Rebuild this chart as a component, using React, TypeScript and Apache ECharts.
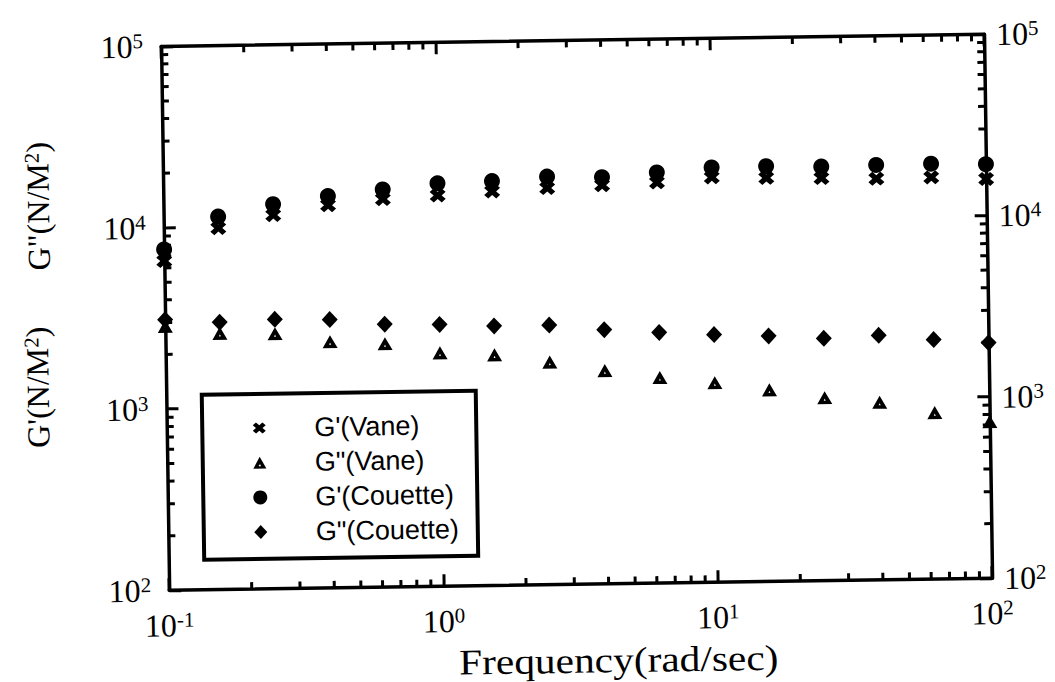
import React, { useEffect, useRef } from 'react';
import * as echarts from 'echarts';

const freq = [0.1, 0.158, 0.251, 0.398, 0.631, 1, 1.58, 2.51, 3.98, 6.31, 10, 15.8, 25.1, 39.8, 63.1, 100];
const gpVane = [6550, 9850, 11500, 12900, 13800, 14300, 14900, 15400, 15800, 16200, 17100, 16800, 16600, 16300, 16400, 15900];
const gppVane = [2860, 2590, 2550, 2280, 2200, 1940, 1870, 1690, 1500, 1360, 1260, 1140, 1020, 953, 827, 730];
const gpCouette = [7590, 11400, 13200, 14500, 15600, 16700, 17000, 17800, 17500, 18400, 19400, 19500, 19200, 19400, 19500, 19200];
const gppCouette = [3110, 2980, 3060, 3020, 2820, 2780, 2700, 2700, 2520, 2410, 2320, 2260, 2170, 2230, 2090, 1990];

const seriesNames = ["G'(Vane)", 'G"(Vane)', "G'(Couette)", 'G"(Couette)'];
const xMinor = [0.2, 0.3, 0.4, 0.5, 0.6, 0.7, 0.8, 0.9, 2, 3, 4, 5, 6, 7, 8, 9, 20, 30, 40, 50, 60, 70, 80, 90];
const yMinor = [200, 300, 400, 500, 600, 700, 800, 900, 2000, 3000, 4000, 5000, 6000, 7000, 8000, 9000, 20000, 30000, 40000, 50000, 60000, 70000, 80000, 90000];
const xMin = 0.1, xMax = 100, yMin = 100, yMax = 100000;

const SERIF = "'Liberation Serif', 'Times New Roman', serif";
const SANS = "'Liberation Sans', Arial, sans-serif";
const crossPts = [[0, 3.5], [3.5, 0], [7, 3.5], [10.5, 0], [14, 3.5], [10.5, 7], [14, 10.5], [10.5, 14], [7, 10.5], [3.5, 14], [0, 10.5], [3.5, 7]];
const crossPath = 'path://' + crossPts.map((p, i) => (i ? 'L' : 'M') + p[0] + ',' + p[1]).join(' ') + ' Z';
const trianglePath = 'path://M7,0 L14,13 L0,13 Z M7,7.4 L6.1,9.6 L7.9,9.6 Z';
const diamondPath = 'path://M7,0 L14,7 L7,14 L0,7 Z';

const expLabel = (v: number) => {
  const e = Math.round(Math.log10(v));
  return `{b|10}{s|${e}}`;
};
const labelRich = {
  b: { fontSize: 32, fontFamily: SERIF, color: '#000' },
  s: { fontSize: 21, fontFamily: SERIF, color: '#000', verticalAlign: 'top' },
};

const pairs = (ys: number[]) => freq.map((f, i) => [f, ys[i]]);

// legend layout (pixels, in the un-rotated frame)
const LEG_X = 201, LEG_Y = 390, LEG_W = 274, LEG_H = 165;
const LEG_ICON_X = 258, LEG_TEXT_X = 313, LEG_ROW0 = 424, LEG_ROW_GAP = 34.7;
const MINOR_LEN = 7;
const TICK_W = 3;

export default function App() {
  const ref = useRef<HTMLDivElement>(null);
  useEffect(() => {
    if (!ref.current) return;
    const chart = echarts.init(ref.current, null, { renderer: 'svg' });
    const mkLine = () => ({ show: true, lineStyle: { color: '#000', width: 3.5 } });
    const mkTick = () => ({ show: true, inside: true, length: 12, lineStyle: { color: '#000', width: TICK_W } });
    const mark = (name: string, ys: number[], symbol: string, size: any) => ({
      type: 'scatter', name, data: pairs(ys), clip: false, z: 3,
      symbol, symbolSize: size, symbolKeepAspect: true,
      itemStyle: { color: '#000', opacity: 1 },
    });

    const option: any = {
      animation: false,
      grid: { left: 165.5, top: 41, width: 823, height: 544, containLabel: false },
      xAxis: [
        {
          type: 'log', logBase: 10, min: xMin, max: xMax, position: 'bottom',
          axisLine: mkLine(), axisTick: mkTick(), splitLine: { show: false },
          axisLabel: { formatter: expLabel, rich: labelRich, margin: 19 },
        },
        {
          type: 'log', logBase: 10, min: xMin, max: xMax, position: 'top',
          axisLine: mkLine(), axisTick: mkTick(), splitLine: { show: false }, axisLabel: { show: false },
        },
      ],
      yAxis: [
        {
          type: 'log', logBase: 10, min: yMin, max: yMax, position: 'left',
          axisLine: mkLine(), axisTick: mkTick(), splitLine: { show: false },
          axisLabel: { formatter: expLabel, rich: labelRich, margin: 18 },
        },
        {
          type: 'log', logBase: 10, min: yMin, max: yMax, position: 'right',
          axisLine: mkLine(), axisTick: mkTick(), splitLine: { show: false },
          axisLabel: { formatter: expLabel, rich: labelRich, margin: 12 },
        },
      ],
      series: [
        mark(seriesNames[0], gpVane, crossPath, [16, 14]),
        mark(seriesNames[1], gppVane, trianglePath, [15, 14]),
        mark(seriesNames[2], gpCouette, 'circle', 16),
        mark(seriesNames[3], gppCouette, diamondPath, [16, 17]),
      ],
    };
    chart.setOption(option);

    // minor ticks placed through the chart's own log scales
    const toPx = (v: number[]) => chart.convertToPixel({ gridIndex: 0 }, v) as number[];
    const tick = (x1: number, y1: number, x2: number, y2: number) => ({
      type: 'line', shape: { x1, y1, x2, y2 }, style: { stroke: '#000', lineWidth: TICK_W },
    });
    const minorTicks: any[] = [];
    xMinor.forEach((v) => {
      const b = toPx([v, yMin]);
      const t = toPx([v, yMax]);
      minorTicks.push(tick(b[0], b[1], b[0], b[1] - MINOR_LEN));
      minorTicks.push(tick(t[0], t[1], t[0], t[1] + MINOR_LEN));
    });
    yMinor.forEach((v) => {
      const l = toPx([xMin, v]);
      const r = toPx([xMax, v]);
      minorTicks.push(tick(l[0], l[1], l[0] + MINOR_LEN, l[1]));
      minorTicks.push(tick(r[0], r[1], r[0] - MINOR_LEN, r[1]));
    });

    const rowY = (i: number) => LEG_ROW0 + i * LEG_ROW_GAP;
    const black = { fill: '#000' };
    const legendIcons: any[] = [
      {
        type: 'polygon',
        shape: { points: crossPts.map((p) => [LEG_ICON_X - 6.5 + p[0] * (13 / 14), rowY(0) - 5.5 + p[1] * (11 / 14)]) },
        style: black,
      },
      {
        type: 'polygon',
        shape: { points: [[LEG_ICON_X, rowY(1) - 6], [LEG_ICON_X + 6.5, rowY(1) + 6], [LEG_ICON_X - 6.5, rowY(1) + 6]] },
        style: black,
      },
      { type: 'circle', shape: { cx: LEG_ICON_X, cy: rowY(1) + 2.8, r: 0.9 }, style: { fill: '#fff' } },
      { type: 'circle', shape: { cx: LEG_ICON_X, cy: rowY(2), r: 7 }, style: black },
      {
        type: 'polygon',
        shape: { points: [[LEG_ICON_X, rowY(3) - 7], [LEG_ICON_X + 6.5, rowY(3)], [LEG_ICON_X, rowY(3) + 7], [LEG_ICON_X - 6.5, rowY(3)]] },
        style: black,
      },
    ];
    const legendTexts = seriesNames.map((n, i) => ({
      type: 'text', x: LEG_TEXT_X, y: rowY(i),
      style: { text: n, font: `27px ${SANS}`, fill: '#000', align: 'left', verticalAlign: 'middle' },
    }));

    chart.setOption({
      graphic: [
        {
          type: 'text', x: 40, y: 199, rotation: Math.PI / 2,
          style: {
            text: 'G"(N/M{s|2})', font: `32px ${SERIF}`, fill: '#000', align: 'center', verticalAlign: 'middle',
            rich: { s: { fontSize: 21, fontFamily: SERIF, verticalAlign: 'top' } },
          },
        },
        {
          type: 'text', x: 37, y: 380, rotation: Math.PI / 2,
          style: {
            text: "G'(N/M{s|2})", font: `32px ${SERIF}`, fill: '#000', align: 'center', verticalAlign: 'middle',
            rich: { s: { fontSize: 21, fontFamily: SERIF, verticalAlign: 'top' } },
          },
        },
        {
          type: 'text', x: 614, y: 661, scaleX: 1.15,
          style: { text: 'Frequency(rad/sec)', font: `36px ${SERIF}`, fill: '#000', align: 'center', verticalAlign: 'middle' },
        },
        ...minorTicks,
        {
          type: 'rect', shape: { x: LEG_X, y: LEG_Y, width: LEG_W, height: LEG_H },
          style: { fill: '#fff', stroke: '#000', lineWidth: 4 }, z: 30,
        },
        ...legendIcons.map((e) => ({ ...e, z: 31 })),
        ...legendTexts.map((e) => ({ ...e, z: 31 })),
      ],
    });
    return () => chart.dispose();
  }, []);
  return (
    <div
      ref={ref}
      style={{
        position: 'absolute', left: 0, top: 0, width: 1055, height: 682, background: '#fff',
        transform: 'rotate(-0.85deg)', transformOrigin: '50% 50%',
      }}
    />
  );
}
